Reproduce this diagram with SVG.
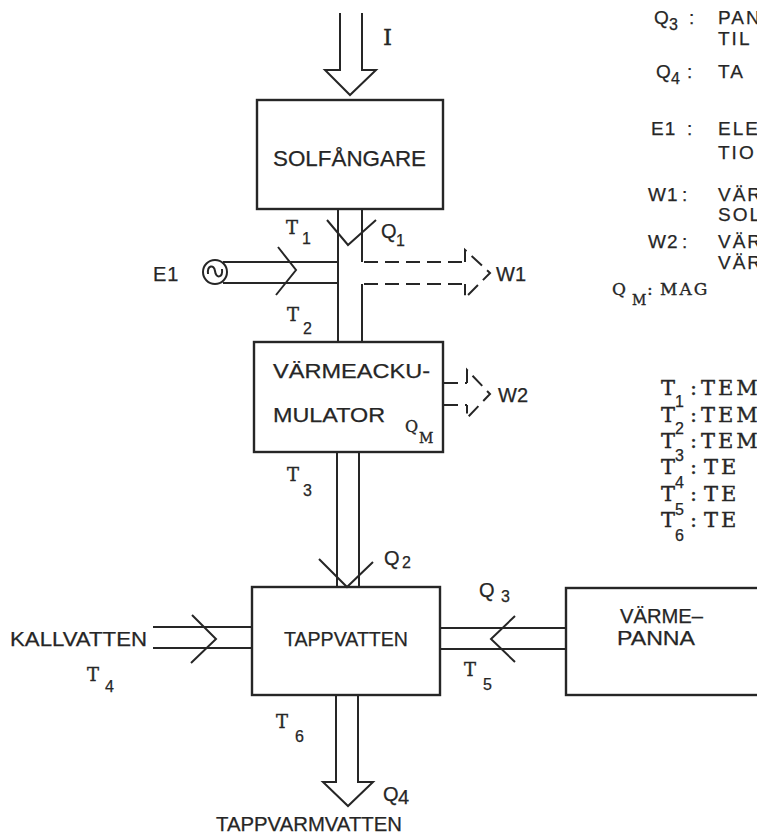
<svg xmlns="http://www.w3.org/2000/svg" width="757" height="837" viewBox="0 0 757 837">
<style>
.ln{stroke:#262626;stroke-width:2;fill:none;stroke-linejoin:miter}
.ds{stroke:#262626;stroke-width:2;fill:none;stroke-dasharray:14 7}
.bx{stroke:#262626;stroke-width:2.4;fill:none}
.s{font-family:"Liberation Sans","DejaVu Sans",sans-serif;fill:#262626;stroke:#262626;stroke-width:0.25}
.tw{font-family:"DejaVu Serif","Liberation Serif",serif;fill:#262626;stroke:#262626;stroke-width:0.35}
.big{font-size:21px}
.lab{font-size:20px}
.leg{font-size:19px}
.sub{font-size:16px}
.tl{font-size:18px}
.lt{font-size:21px}
</style>
<rect width="757" height="837" fill="#ffffff"/>

<g id="connectors">
  <!-- input arrow I -->
  <path class="ln" d="M340,13 V70 H325 L350,95 L376,70 H362 V13"/>
  <!-- pipe solfangare -> ackumulator -->
  <line class="ln" x1="338" y1="209" x2="338" y2="342"/>
  <line class="ln" x1="362" y1="209" x2="362" y2="262"/>
  <line class="ln" x1="362" y1="284" x2="362" y2="342"/>
  <polyline class="ln" points="327,220 348,245 376,220"/>
  <!-- E1 input -->
  <line class="ln" x1="223" y1="262" x2="338" y2="262"/>
  <line class="ln" x1="223" y1="283" x2="338" y2="283"/>
  <polyline class="ln" points="278,247 296,270 276,295"/>
  <!-- W1 loss -->
  <line class="ds" x1="364" y1="262" x2="465" y2="262"/>
  <line class="ds" x1="364" y1="284" x2="465" y2="284"/>
  <path class="ds" stroke-dasharray="10 6" d="M465,262 V250 L490,273 L465,298 V284"/>
  <!-- W2 loss -->
  <line class="ds" stroke-dasharray="12 6" x1="444" y1="383" x2="467" y2="383"/>
  <line class="ds" stroke-dasharray="12 6" x1="444" y1="405" x2="467" y2="405"/>
  <path class="ds" stroke-dasharray="9 6" d="M467,383 V370 L490,394 L467,418 V405"/>
  <!-- pipe ackumulator -> tappvatten -->
  <line class="ln" x1="337" y1="452" x2="337" y2="587"/>
  <line class="ln" x1="359" y1="452" x2="359" y2="587"/>
  <polyline class="ln" points="319,559 347,587 373,562"/>
  <!-- kallvatten -->
  <line class="ln" x1="153" y1="627" x2="252" y2="627"/>
  <line class="ln" x1="153" y1="648" x2="252" y2="648"/>
  <polyline class="ln" points="192,615 216,639 191,663"/>
  <!-- varmepanna -> tappvatten -->
  <line class="ln" x1="440" y1="628" x2="566" y2="628"/>
  <line class="ln" x1="440" y1="649" x2="566" y2="649"/>
  <polyline class="ln" points="515,616 491,639 515,662"/>
  <!-- output arrow -->
  <path class="ln" d="M336,695 V782 H323 L348,806 L373,782 H358 V695"/>
</g>

<g id="solfangare">
  <rect class="bx" x="257" y="100" width="186" height="109"/>
  <text class="s" x="273" y="166" font-size="22" textLength="153" lengthAdjust="spacingAndGlyphs">SOLFÅNGARE</text>
</g>

<g id="varmeackumulator">
  <rect class="bx" x="254" y="342" width="189" height="110"/>
  <text class="s big" x="273" y="378" textLength="157" lengthAdjust="spacingAndGlyphs">VÄRMEACKU-</text>
  <text class="s big" x="273" y="422" textLength="112" lengthAdjust="spacingAndGlyphs">MULATOR</text>
</g>

<g id="tappvatten">
  <rect class="bx" x="252" y="587" width="188" height="108"/>
  <text class="s big" x="284" y="646" textLength="124" lengthAdjust="spacingAndGlyphs">TAPPVATTEN</text>
</g>

<g id="varmepanna">
  <rect class="bx" x="566" y="588" width="200" height="107"/>
  <text class="s lab" x="620" y="623" textLength="83" lengthAdjust="spacingAndGlyphs">VÄRME–</text>
  <text class="s lab" x="617" y="645" textLength="78" lengthAdjust="spacingAndGlyphs">PANNA</text>
</g>

<g id="e1-source">
  <circle class="ln" cx="215" cy="272" r="12"/>
  <path class="ln" stroke-width="1.8" d="M208,274 C207,265 214,264 215,271 C216,279 223,278 222,269"/>
  <text class="s lab" x="153" y="281" letter-spacing="1">E1</text>
</g>

<g id="labels">
  <text class="tw" x="383" y="45" font-size="23">I</text>

  <text class="tw tl" x="286" y="234">T</text><text class="s sub" x="302" y="244">1</text>
  <text class="s lab" x="381" y="238">Q</text><text class="s sub" x="396" y="246">1</text>
  <text class="s lab" x="496" y="281">W1</text>
  <text class="tw tl" x="287" y="321">T</text><text class="s sub" x="303" y="334">2</text>

  <text class="tw" font-size="16" x="405" y="432">Q</text><text class="tw" font-size="14" x="419" y="443">M</text>
  <text class="s lab" x="498" y="402">W2</text>
  <text class="tw tl" x="287" y="481">T</text><text class="s sub" x="303" y="496">3</text>

  <text class="s lab" x="384" y="565">Q</text><text class="s sub" x="402" y="568">2</text>
  <text class="s big" x="10" y="646" textLength="137" lengthAdjust="spacingAndGlyphs">KALLVATTEN</text>
  <text class="tw tl" x="87" y="681">T</text><text class="s sub" x="105" y="692">4</text>
  <text class="s lab" x="479" y="597">Q</text><text class="s sub" x="501" y="602">3</text>
  <text class="tw tl" x="464" y="676">T</text><text class="s sub" x="483" y="690">5</text>
  <text class="tw tl" x="276" y="728">T</text><text class="s sub" x="295" y="742">6</text>
  <text class="s lab" x="383" y="801">Q</text><text class="s lab" x="398" y="804">4</text>
  <text class="s big" x="216" y="831" textLength="186" lengthAdjust="spacingAndGlyphs">TAPPVARMVATTEN</text>
</g>

<g id="legend">
  <text class="s leg" x="654" y="24">Q</text><text class="s sub" x="669" y="30">3</text><text class="s leg" x="689" y="24">:</text>
  <text class="s leg" x="718" y="24" letter-spacing="2">PAN</text>
  <text class="s leg" x="718" y="45" letter-spacing="2">TIL</text>

  <text class="s leg" x="656" y="78">Q</text><text class="s sub" x="671" y="84">4</text><text class="s leg" x="687" y="78">:</text>
  <text class="s leg" x="718" y="78" letter-spacing="2">TA</text>

  <text class="s leg" x="651" y="135" letter-spacing="1">E1</text><text class="s leg" x="687" y="135">:</text>
  <text class="s leg" x="718" y="135" letter-spacing="2">ELE</text>
  <text class="s leg" x="718" y="159" letter-spacing="2">TIO</text>

  <text class="s leg" x="648" y="201" letter-spacing="1">W1</text><text class="s leg" x="682" y="201">:</text>
  <text class="s leg" x="718" y="201" letter-spacing="2">VÄR</text>
  <text class="s leg" x="718" y="221" letter-spacing="2">SOL</text>

  <text class="s leg" x="648" y="248" letter-spacing="1">W2</text><text class="s leg" x="682" y="248">:</text>
  <text class="s leg" x="718" y="248" letter-spacing="2">VÄR</text>
  <text class="s leg" x="718" y="269" letter-spacing="2">VÄR</text>

  <text class="tw" font-size="17" x="612" y="295">Q</text><text class="tw" font-size="14" x="632" y="305">M</text><text class="tw" font-size="17" x="647" y="295">:</text>
  <text class="tw" font-size="17" x="660" y="295" letter-spacing="2">MAG</text>

  <text class="tw lt" x="661" y="395">T</text><text class="s sub" x="675" y="407">1</text><text class="tw lt" x="690" y="395">:</text><text class="tw lt" x="701" y="395" letter-spacing="3">TEM</text>
  <text class="tw lt" x="661" y="422">T</text><text class="s sub" x="675" y="434">2</text><text class="tw lt" x="690" y="422">:</text><text class="tw lt" x="701" y="422" letter-spacing="3">TEM</text>
  <text class="tw lt" x="661" y="448">T</text><text class="s sub" x="675" y="461">3</text><text class="tw lt" x="690" y="448">:</text><text class="tw lt" x="701" y="448" letter-spacing="3">TEM</text>
  <text class="tw lt" x="661" y="474">T</text><text class="s sub" x="675" y="488">4</text><text class="tw lt" x="690" y="474">:</text><text class="tw lt" x="704" y="474" letter-spacing="3">TE</text>
  <text class="tw lt" x="661" y="501">T</text><text class="s sub" x="675" y="515">5</text><text class="tw lt" x="690" y="501">:</text><text class="tw lt" x="704" y="501" letter-spacing="3">TE</text>
  <text class="tw lt" x="661" y="527">T</text><text class="s sub" x="675" y="541">6</text><text class="tw lt" x="690" y="527">:</text><text class="tw lt" x="704" y="527" letter-spacing="3">TE</text>
</g>
</svg>
